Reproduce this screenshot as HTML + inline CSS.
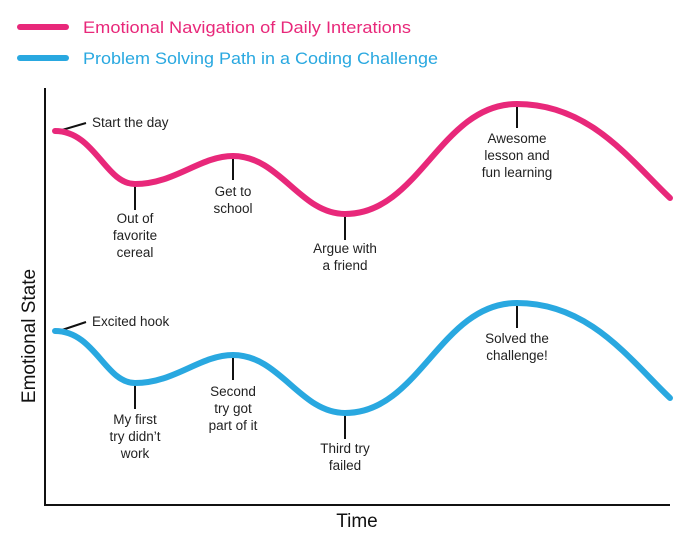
<!DOCTYPE html>
<html><head><style>body{margin:0;background:#fff}</style></head><body>
<svg width="688" height="548" xmlns="http://www.w3.org/2000/svg" font-family="Liberation Sans, sans-serif">
<line x1="20" y1="27" x2="66" y2="27" stroke="#e8287a" stroke-width="6" stroke-linecap="round"/>
<text x="83" y="33" font-size="17" fill="#e8287a" textLength="328" lengthAdjust="spacingAndGlyphs">Emotional Navigation of Daily Interations</text>
<line x1="20" y1="58" x2="66" y2="58" stroke="#29a8e0" stroke-width="6" stroke-linecap="round"/>
<text x="83" y="64" font-size="17" fill="#29a8e0" textLength="355" lengthAdjust="spacingAndGlyphs">Problem Solving Path in a Coding Challenge</text>
<line x1="45" y1="88" x2="45" y2="505" stroke="#111" stroke-width="2"/>
<line x1="44" y1="505" x2="670" y2="505" stroke="#111" stroke-width="2"/>
<text x="357" y="527" font-size="19" text-anchor="middle" fill="#111">Time</text>
<text transform="translate(35,336) rotate(-90)" font-size="19" text-anchor="middle" fill="#111">Emotional State</text>
<g stroke="#111" stroke-width="2" fill="none">
<line x1="62" y1="130" x2="86" y2="123"/><line x1="135" y1="184" x2="135" y2="210"/><line x1="233" y1="156" x2="233" y2="180"/><line x1="345" y1="214" x2="345" y2="240"/><line x1="517" y1="104" x2="517" y2="128"/>
<line x1="62" y1="330" x2="86" y2="322"/><line x1="135" y1="383" x2="135" y2="409"/><line x1="233" y1="355" x2="233" y2="380"/><line x1="345" y1="413" x2="345" y2="439"/><line x1="517" y1="303" x2="517" y2="328"/>
</g>
<path d="M55,131 C95,131 105,184 135,184 C175,184 200,156 233,156 C280,156 300,214 345,214 C420,214 440,104 517,104 C590,104 630,160 670,198" stroke="#e8287a" stroke-width="6" fill="none" stroke-linecap="round"/>
<path d="M55,331 C95,331 105,383 135,383 C175,383 200,355 233,355 C280,355 300,413 345,413 C420,413 440,303 517,303 C590,303 630,360 670,398" stroke="#29a8e0" stroke-width="6" fill="none" stroke-linecap="round"/>
<g font-size="13.5" fill="#222" text-anchor="middle">
<text x="92" y="127" text-anchor="start">Start the day</text>
<text x="135" y="223">Out of</text><text x="135" y="240">favorite</text><text x="135" y="257">cereal</text>
<text x="233" y="196">Get to</text><text x="233" y="213">school</text>
<text x="345" y="253">Argue with</text><text x="345" y="270">a friend</text>
<text x="517" y="143">Awesome</text><text x="517" y="160">lesson and</text><text x="517" y="177">fun learning</text>
<text x="92" y="326" text-anchor="start">Excited hook</text>
<text x="135" y="424">My first</text><text x="135" y="441">try didn’t</text><text x="135" y="458">work</text>
<text x="233" y="396">Second</text><text x="233" y="413">try got</text><text x="233" y="430">part of it</text>
<text x="345" y="453">Third try</text><text x="345" y="470">failed</text>
<text x="517" y="343">Solved the</text><text x="517" y="360">challenge!</text>
</g>
</svg>
</body></html>
